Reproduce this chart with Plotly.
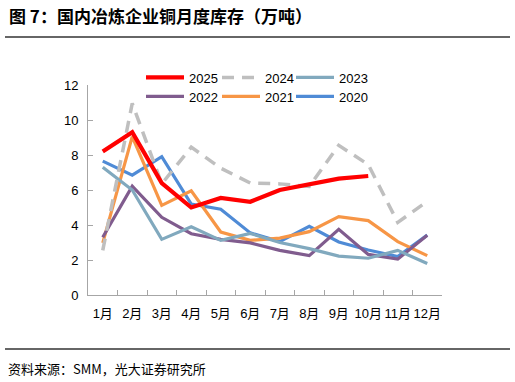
import plotly.graph_objects as go

months = ["1月", "2月", "3月", "4月", "5月", "6月", "7月", "8月", "9月", "10月", "11月", "12月"]

y2025 = [8.2, 9.3, 6.4, 5.0, 5.55, 5.33, 6.0, 6.3, 6.65, 6.8, None, None]
y2024 = [2.55, 10.95, 6.35, 8.45, 7.25, 6.4, 6.35, 6.2, 8.55, 7.45, 4.15, 5.35]
y2023 = [7.3, 6.0, 3.18, 3.9, 3.12, 3.52, 3.0, 2.65, 2.22, 2.1, 2.55, 1.8]
y2022 = [3.3, 6.22, 4.44, 3.5, 3.18, 2.98, 2.55, 2.25, 3.75, 2.32, 2.05, 3.42]
y2021 = [2.98, 9.05, 5.12, 5.95, 3.6, 3.12, 3.25, 3.62, 4.48, 4.25, 3.05, 2.25]
y2020 = [7.65, 6.85, 7.9, 5.2, 4.9, 3.55, 3.05, 3.92, 3.03, 2.57, 2.2, 3.42]

# name, values, colour, width, dash, legend slot (row, col)
series = [
    ("2025", y2025, "#FF0000", 4.2, "solid", (0, 0)),
    ("2024", y2024, "#BFBFBF", 3.5, "12px,8px", (0, 1)),
    ("2023", y2023, "#81A9BE", 3.2, "solid", (0, 2)),
    ("2022", y2022, "#805C8E", 3.2, "solid", (1, 0)),
    ("2021", y2021, "#F79646", 3.2, "solid", (1, 1)),
    ("2020", y2020, "#4F8BD6", 3.2, "solid", (1, 2)),
]

FONT = "Liberation Sans, Arial, Noto Sans CJK SC, sans-serif"
CJK = "Noto Sans CJK SC, sans-serif"

L, R, T, B = 88, 73, 85, 87
W, H = 515, 382
pw, ph = W - L - R, H - T - B

def px(x):
    return (x - L) / pw

def py(y):
    return (H - B - y) / ph

legend_x = [149, 225, 299]
legend_y = [77.5, 96.5]

fig = go.Figure()
layout_legends = {}
# draw older series first so 2025 ends on top
for idx in reversed(range(len(series))):
    name, ys, color, w, dash, (row, col) = series[idx]
    key = "legend" if idx == 0 else f"legend{idx + 1}"
    fig.add_trace(go.Scatter(
        x=months, y=ys, name=name, mode="lines",
        line=dict(color=color, width=w, dash=dash),
        legend=key, connectgaps=False,
    ))
    layout_legends[key] = dict(
        orientation="h", x=px(legend_x[col] - 8), xanchor="left",
        y=py(legend_y[row]), yanchor="middle",
        font=dict(size=13, family=FONT), itemwidth=38,
        bgcolor="rgba(0,0,0,0)",
    )

axis_color = "#A6A6A6"
fig.update_layout(
    width=W, height=H,
    margin=dict(l=L, r=R, t=T, b=B),
    paper_bgcolor="white", plot_bgcolor="white",
    font=dict(family=FONT, size=13, color="#000000"),
    xaxis=dict(
        type="category", range=[-0.5, 11.5], showgrid=False,
        showline=True, linecolor=axis_color, linewidth=1,
        ticks="inside", tickson="boundaries", ticklen=5, tickcolor=axis_color,
        tickfont=dict(size=13, family=FONT), ticklabelstandoff=6, tickangle=0,
    ),
    yaxis=dict(
        range=[0, 12], dtick=2, showgrid=False, zeroline=False,
        showline=True, linecolor=axis_color, linewidth=1,
        ticks="inside", ticklen=5, tickcolor=axis_color,
        tickfont=dict(size=13, family=FONT), ticklabelstandoff=6,
    ),
    showlegend=True,
    **layout_legends,
)

fig.add_annotation(
    text="<b>图 7：国内冶炼企业铜月度库存（万吨）</b>", xref="paper", yref="paper",
    x=px(7), y=py(15), xanchor="left", yanchor="middle", showarrow=False,
    font=dict(size=17, family=CJK, color="#000000"),
)
fig.add_annotation(
    text="资料来源：SMM，光大证券研究所", xref="paper", yref="paper",
    x=px(6), y=py(368), xanchor="left", yanchor="middle", showarrow=False,
    font=dict(size=13, family=CJK, color="#000000"),
)
fig.add_shape(type="line", xref="paper", yref="paper", x0=px(5), x1=px(510),
              y0=py(37), y1=py(37), line=dict(color="#333333", width=1.3))
fig.add_shape(type="line", xref="paper", yref="paper", x0=px(5), x1=px(510),
              y0=py(349), y1=py(349), line=dict(color="#333333", width=1.3))

fig.write_html("out.html")
